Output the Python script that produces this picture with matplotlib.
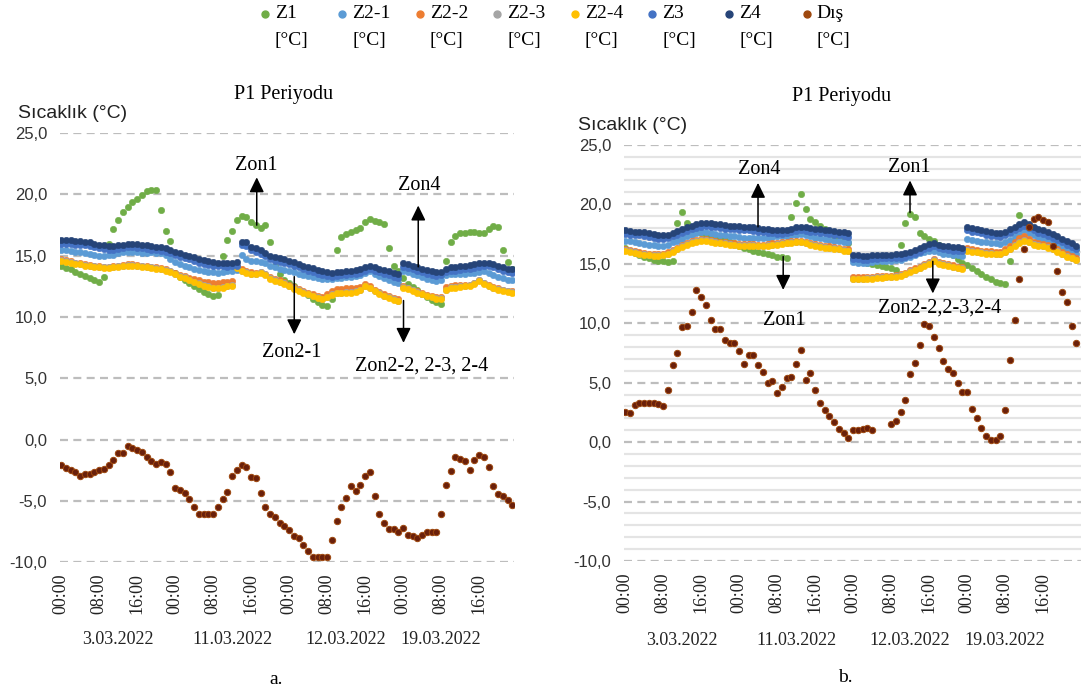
import numpy as np
import matplotlib.pyplot as plt
from matplotlib.lines import Line2D

# hourly index over the four measurement days
hours = np.arange(96)
tick_hours = np.arange(0, 96, 8)
tick_labels = ['00:00', '08:00', '16:00'] * 4
dates = ['3.03.2022', '11.03.2022', '12.03.2022', '19.03.2022']
date_pos = [12, 36, 60, 80]
names = ['Z1', 'Z2-1', 'Z2-2', 'Z2-3', 'Z2-4', 'Z3', 'Z4', 'Dış']

# ---- panel a (°C) ----
a_z1 = [14.2, 14.0, 13.9, 13.7, 13.5, 13.35, 13.2, 13.05,
        12.85, 13.3, 16.0, 17.2, 17.9, 18.6, 19.0, 19.35,
        19.6, 19.95, 20.25, 20.4, 20.35, 18.7, 17.0, 16.2,
        13.6, 13.3, 13.0, 12.75, 12.5, 12.3, 12.05, 11.9,
        11.75, 11.8, 15.0, 16.3, 17.0, 17.95, 18.25, 18.2,
        17.75, 17.55, 17.25, 17.5, 16.15, 14.2, 13.5, 13.0,
        12.75, 12.5, 12.25, 12.05, 11.8, 11.5, 11.2, 11.0,
        10.9, 11.5, 15.5, 16.55, 16.75, 16.95, 17.1, 17.3,
        17.75, 18.0, 17.85, 17.75, 17.6, 15.6, 14.2, 13.75,
        13.2, 12.7, 12.45, 12.2, 11.9, 11.65, 11.4, 11.2,
        11.1, 14.6, 16.1, 16.6, 16.85, 16.9, 16.95, 16.95,
        16.9, 16.9, 17.2, 17.45, 17.35, 15.5, 14.5, 13.9]
a_z21 = [15.5, 15.45, 15.4, 15.35, 15.3, 15.25, 15.15, 15.1,
         15.0, 15.0, 15.05, 15.1, 15.2, 15.3, 15.35, 15.3,
         15.3, 15.25, 15.25, 15.3, 15.25, 15.2, 15.1, 14.7,
         14.5, 14.35, 14.2, 14.1, 13.95, 13.85, 13.75, 13.7,
         13.65, 13.6, 13.65, 13.75, 13.8, 13.85, 15.1, 14.75,
         14.6, 14.55, 14.5, 14.4, 14.2, 14.05, 13.95, 13.85,
         13.75, 13.65, 13.55, 13.45, 13.35, 13.25, 13.2, 13.1,
         13.1, 13.1, 13.15, 13.2, 13.25, 13.3, 13.35, 13.45,
         13.6, 13.75, 13.55, 13.35, 13.2, 13.05, 12.9, 12.8,
         13.8, 13.7, 13.55, 13.4, 13.25, 13.1, 13.0, 12.95,
         13.0, 13.45, 13.5, 13.5, 13.55, 13.55, 13.6, 13.6,
         13.7, 13.75, 13.6, 13.45, 13.3, 13.15, 13.05, 13.0]
a_z22 = [14.75, 14.65, 14.55, 14.45, 14.4, 14.3, 14.25, 14.2,
         14.15, 14.1, 14.1, 14.15, 14.2, 14.25, 14.3, 14.3,
         14.25, 14.2, 14.15, 14.1, 14.05, 14.0, 13.9, 13.8,
         13.6, 13.4, 13.35, 13.2, 13.1, 13.0, 12.9, 12.85,
         12.8, 12.8, 12.85, 12.9, 12.95, 14.15, 13.9, 13.75,
         13.65, 13.6, 13.7, 13.55, 13.25, 13.1, 13.0, 12.85,
         12.65, 12.45, 12.3, 12.15, 12.0, 11.85, 11.7, 11.6,
         11.9, 12.15, 12.3, 12.3, 12.35, 12.35, 12.4, 12.45,
         12.7, 12.5, 12.25, 12.05, 11.85, 11.7, 11.55, 11.45,
         12.5, 12.4, 12.25, 12.1, 11.95, 11.8, 11.7, 11.6,
         11.65, 12.45, 12.55, 12.6, 12.6, 12.65, 12.65, 12.8,
         13.0, 12.8, 12.6, 12.45, 12.35, 12.25, 12.15, 12.1]
a_z23 = [14.65, 14.55, 14.5, 14.4, 14.35, 14.25, 14.2, 14.15,
         14.1, 14.05, 14.05, 14.1, 14.15, 14.2, 14.25, 14.25,
         14.2, 14.15, 14.1, 14.05, 14.0, 13.95, 13.85, 13.75,
         13.55, 13.35, 13.25, 13.05, 12.9, 12.75, 12.6, 12.5,
         12.4, 12.4, 12.45, 12.55, 12.6, 14.05, 13.8, 13.65,
         13.55, 13.55, 13.65, 13.5, 13.15, 13.0, 12.9, 12.75,
         12.55, 12.35, 12.2, 12.05, 11.9, 11.75, 11.6, 11.5,
         11.65, 11.85, 12.0, 12.0, 12.05, 12.05, 12.1, 12.25,
         12.55, 12.4, 12.15, 11.95, 11.75, 11.6, 11.45, 11.35,
         12.45, 12.35, 12.2, 12.05, 11.9, 11.75, 11.65, 11.55,
         11.55, 12.25, 12.45, 12.45, 12.5, 12.55, 12.6, 12.75,
         13.0, 12.75, 12.55, 12.4, 12.3, 12.2, 12.1, 12.05]
a_z24 = [14.6, 14.5, 14.45, 14.35, 14.3, 14.2, 14.15, 14.1,
         14.05, 14.0, 14.0, 14.05, 14.1, 14.15, 14.2, 14.2,
         14.15, 14.1, 14.05, 14.0, 13.95, 13.9, 13.8, 13.7,
         13.5, 13.3, 13.2, 13.0, 12.85, 12.7, 12.55, 12.45,
         12.35, 12.35, 12.4, 12.5, 12.55, 14.0, 13.75, 13.6,
         13.5, 13.5, 13.6, 13.45, 13.1, 12.95, 12.85, 12.7,
         12.5, 12.3, 12.15, 12.0, 11.85, 11.7, 11.55, 11.45,
         11.6, 11.8, 11.95, 11.95, 12.0, 12.0, 12.05, 12.2,
         12.5, 12.35, 12.1, 11.9, 11.7, 11.55, 11.4, 11.3,
         12.4, 12.3, 12.15, 12.0, 11.85, 11.7, 11.6, 11.5,
         11.5, 12.2, 12.4, 12.4, 12.45, 12.5, 12.55, 12.7,
         12.95, 12.7, 12.5, 12.35, 12.25, 12.15, 12.05, 12.0]
a_z3 = [16.0, 16.0, 15.95, 15.9, 15.9, 15.85, 15.8, 15.7,
        15.6, 15.55, 15.5, 15.5, 15.55, 15.6, 15.7, 15.7,
        15.65, 15.6, 15.55, 15.5, 15.45, 15.4, 15.3, 15.2,
        15.05, 14.9, 14.8, 14.7, 14.6, 14.45, 14.35, 14.25,
        14.2, 14.15, 14.15, 14.1, 14.15, 14.2, 15.85, 15.8,
        15.45, 15.3, 15.15, 14.95, 14.75, 14.6, 14.5, 14.4,
        14.3, 14.2, 14.05, 13.9, 13.8, 13.7, 13.55, 13.45,
        13.35, 13.3, 13.35, 13.4, 13.45, 13.5, 13.55, 13.6,
        13.75, 13.9, 13.75, 13.65, 13.55, 13.45, 13.3, 13.2,
        14.1, 14.0, 13.9, 13.75, 13.65, 13.55, 13.45, 13.35,
        13.4, 13.65, 13.75, 13.8, 13.85, 13.9, 13.95, 14.0,
        14.1, 14.15, 14.15, 14.05, 13.9, 13.75, 13.65, 13.6]
a_z4 = [16.3, 16.3, 16.25, 16.2, 16.2, 16.15, 16.1, 16.0,
        15.9, 15.85, 15.8, 15.8, 15.85, 15.9, 16.0, 16.0,
        15.95, 15.9, 15.85, 15.8, 15.75, 15.7, 15.6, 15.5,
        15.35, 15.2, 15.1, 15.0, 14.9, 14.75, 14.65, 14.55,
        14.5, 14.45, 14.45, 14.4, 14.45, 14.5, 16.15, 16.1,
        15.75, 15.6, 15.45, 15.2, 15.0, 14.9, 14.8, 14.7,
        14.6, 14.5, 14.35, 14.2, 14.1, 14.0, 13.85, 13.75,
        13.65, 13.6, 13.65, 13.7, 13.75, 13.8, 13.85, 13.9,
        14.05, 14.2, 14.05, 13.95, 13.85, 13.75, 13.6, 13.5,
        14.4, 14.3, 14.2, 14.05, 13.95, 13.85, 13.75, 13.65,
        13.7, 13.95, 14.05, 14.1, 14.15, 14.2, 14.25, 14.3,
        14.4, 14.45, 14.45, 14.35, 14.2, 14.05, 13.95, 13.9]
a_dis = [-2.1, -2.3, -2.45, -2.6, -3.0, -2.8, -2.8, -2.65,
         -2.5, -2.35, -2.1, -1.65, -1.05, -1.05, -0.55, -0.7,
         -0.8, -1.0, -1.4, -1.7, -2.0, -1.85, -2.0, -2.6,
         -3.9, -4.1, -4.35, -4.8, -5.45, -6.1, -6.1, -6.1,
         -6.1, -5.45, -4.8, -4.25, -2.95, -2.5, -2.05, -2.2,
         -3.05, -3.15, -4.35, -5.45, -6.05, -6.3, -6.8, -7.0,
         -7.4, -7.85, -8.0, -8.55, -9.1, -9.55, -9.55, -9.55,
         -9.55, -8.2, -6.65, -5.5, -4.75, -3.8, -4.2, -3.7,
         -2.95, -2.65, -4.6, -6.05, -6.8, -7.3, -7.3, -7.5,
         -7.2, -7.75, -7.85, -8.0, -7.8, -7.5, -7.5, -7.5,
         -6.1, -3.7, -2.55, -1.4, -1.55, -1.75, -2.45, -1.65,
         -1.25, -1.4, -2.25, -3.8, -4.4, -4.6, -4.9, -5.3]

# ---- panel b (°C) ----
b_z1 = [16.3, 16.1, 15.9, 15.75, 15.6, 15.45, 15.35, 15.25,
        15.2, 15.15, 15.2, 18.4, 19.35, 18.4, 17.9, 17.7,
        17.55, 17.4, 17.3, 17.2, 17.1, 17.0, 16.85, 16.7,
        16.45, 16.35, 16.25, 16.1, 16.0, 15.9, 15.8, 15.7,
        15.6, 15.55, 15.5, 18.9, 20.1, 20.9, 19.6, 18.8,
        18.5, 18.2, 17.9, 17.6, 17.3, 17.1, 16.9, 16.7,
        15.4, 15.3, 15.2, 15.1, 15.0, 14.9, 14.8, 14.7,
        14.6, 14.5, 16.6, 18.4, 19.2, 18.9, 17.6, 17.3,
        17.1, 16.9, 16.6, 16.3, 16.0, 15.7, 15.4, 15.1,
        14.85, 14.6, 14.35, 14.1, 13.9, 13.7, 13.5, 13.35,
        13.3, 15.25, 17.0, 19.1, 18.4, 18.2, 18.0, 17.8,
        17.6, 17.4, 17.2, 17.0, 16.8, 16.6, 16.4, 16.2]
b_z21 = [16.95, 16.9, 16.8, 16.7, 16.65, 16.6, 16.55, 16.5,
         16.5, 16.6, 16.8, 16.95, 17.1, 17.3, 17.45, 17.55,
         17.65, 17.7, 17.6, 17.5, 17.45, 17.4, 17.35, 17.3,
         17.25, 17.2, 17.2, 17.2, 17.15, 17.15, 17.2, 17.25,
         17.3, 17.3, 17.35, 17.4, 17.45, 17.5, 17.4, 17.3,
         17.2, 17.15, 17.1, 17.0, 16.95, 16.9, 16.85, 16.8,
         15.15, 15.1, 15.1, 15.1, 15.15, 15.2, 15.2, 15.25,
         15.25, 15.3, 15.35, 15.45, 15.6, 15.75, 15.9, 16.0,
         16.1, 16.1, 15.95, 15.85, 15.8, 15.75, 15.7, 15.65,
         17.1, 17.0, 16.9, 16.85, 16.8, 16.75, 16.7, 16.65,
         16.8, 17.0, 17.3, 17.55, 17.8, 17.6, 17.4, 17.2,
         17.1, 17.0, 16.8, 16.6, 16.4, 16.2, 16.0, 15.85]
b_z22 = [16.25, 16.15, 16.05, 15.95, 15.9, 15.85, 15.8, 15.8,
         15.85, 15.95, 16.15, 16.35, 16.55, 16.75, 16.9, 17.0,
         17.1, 17.1, 17.0, 16.9, 16.85, 16.8, 16.75, 16.7,
         16.65, 16.65, 16.65, 16.65, 16.6, 16.6, 16.65, 16.7,
         16.75, 16.8, 16.85, 16.9, 16.95, 16.95, 16.85, 16.75,
         16.65, 16.55, 16.5, 16.45, 16.4, 16.35, 16.25, 16.2,
         13.85, 13.85, 13.85, 13.9, 13.9, 13.95, 13.95, 14.0,
         14.0, 14.05, 14.15, 14.25, 14.45, 14.6, 14.75, 14.95,
         15.15, 15.4, 15.15, 15.05, 14.95, 14.85, 14.75, 14.7,
         16.3, 16.2, 16.15, 16.1, 16.05, 16.05, 16.0, 16.0,
         16.2, 16.5, 16.85, 17.15, 17.35, 17.1, 16.85, 16.7,
         16.65, 16.55, 16.4, 16.2, 16.0, 15.8, 15.65, 15.5]
b_z23 = [16.15, 16.05, 15.95, 15.85, 15.8, 15.75, 15.7, 15.7,
         15.75, 15.85, 16.05, 16.25, 16.45, 16.65, 16.8, 16.9,
         17.0, 17.0, 16.9, 16.8, 16.75, 16.7, 16.65, 16.6,
         16.55, 16.55, 16.55, 16.55, 16.5, 16.5, 16.55, 16.6,
         16.65, 16.7, 16.75, 16.8, 16.85, 16.85, 16.75, 16.65,
         16.55, 16.45, 16.4, 16.35, 16.3, 16.25, 16.15, 16.1,
         13.75, 13.75, 13.75, 13.8, 13.8, 13.85, 13.85, 13.9,
         13.9, 13.95, 14.05, 14.15, 14.35, 14.5, 14.65, 14.85,
         15.05, 15.3, 15.05, 14.95, 14.85, 14.75, 14.65, 14.6,
         16.15, 16.05, 16.0, 15.95, 15.9, 15.9, 15.85, 15.85,
         16.0, 16.25, 16.55, 16.8, 17.0, 16.85, 16.65, 16.55,
         16.5, 16.4, 16.25, 16.05, 15.85, 15.65, 15.5, 15.35]
b_z24 = [16.1, 16.0, 15.9, 15.8, 15.75, 15.7, 15.65, 15.65,
         15.7, 15.8, 16.0, 16.2, 16.4, 16.6, 16.75, 16.85,
         16.95, 16.95, 16.85, 16.75, 16.7, 16.65, 16.6, 16.55,
         16.5, 16.5, 16.5, 16.5, 16.45, 16.45, 16.5, 16.55,
         16.6, 16.65, 16.7, 16.75, 16.8, 16.8, 16.7, 16.6,
         16.5, 16.4, 16.35, 16.3, 16.25, 16.2, 16.1, 16.05,
         13.7, 13.7, 13.7, 13.75, 13.75, 13.8, 13.8, 13.85,
         13.85, 13.9, 14.0, 14.1, 14.3, 14.45, 14.6, 14.8,
         15.0, 15.25, 15.0, 14.9, 14.8, 14.7, 14.6, 14.55,
         16.1, 16.0, 15.95, 15.9, 15.85, 15.85, 15.8, 15.8,
         15.95, 16.2, 16.5, 16.75, 16.95, 16.8, 16.6, 16.5,
         16.45, 16.35, 16.2, 16.0, 15.8, 15.6, 15.45, 15.3]
b_z3 = [17.5, 17.45, 17.4, 17.4, 17.35, 17.25, 17.2, 17.1,
        17.1, 17.15, 17.3, 17.45, 17.6, 17.75, 17.9, 18.0,
        18.1, 18.15, 18.1, 18.05, 18.0, 17.95, 17.9, 17.9,
        17.85, 17.8, 17.8, 17.75, 17.7, 17.65, 17.6, 17.55,
        17.5, 17.5, 17.55, 17.65, 17.75, 17.8, 17.75, 17.7,
        17.65, 17.6, 17.55, 17.5, 17.45, 17.4, 17.35, 17.25,
        15.4, 15.4, 15.35, 15.35, 15.4, 15.4, 15.45, 15.45,
        15.45, 15.5, 15.5, 15.6, 15.7, 15.85, 16.0, 16.2,
        16.35, 16.45, 16.3, 16.2, 16.15, 16.1, 16.1, 16.05,
        17.8, 17.7, 17.65, 17.55, 17.45, 17.35, 17.3, 17.25,
        17.4, 17.6, 17.8, 18.0, 18.2, 18.0, 17.8, 17.6,
        17.5, 17.35, 17.2, 17.0, 16.8, 16.6, 16.4, 16.2]
b_z4 = [17.8, 17.75, 17.7, 17.7, 17.65, 17.55, 17.5, 17.4,
        17.4, 17.45, 17.6, 17.75, 17.9, 18.05, 18.2, 18.3,
        18.4, 18.45, 18.4, 18.35, 18.3, 18.25, 18.2, 18.2,
        18.15, 18.1, 18.1, 18.05, 18.0, 17.95, 17.9, 17.85,
        17.8, 17.8, 17.85, 17.95, 18.05, 18.1, 18.05, 18.0,
        17.95, 17.9, 17.85, 17.8, 17.75, 17.7, 17.65, 17.55,
        15.7, 15.7, 15.65, 15.65, 15.7, 15.7, 15.75, 15.75,
        15.75, 15.8, 15.8, 15.9, 16.0, 16.15, 16.3, 16.5,
        16.65, 16.75, 16.6, 16.5, 16.45, 16.4, 16.4, 16.35,
        18.1, 18.0, 17.95, 17.85, 17.75, 17.65, 17.6, 17.55,
        17.7, 17.9, 18.1, 18.3, 18.5, 18.3, 18.1, 17.9,
        17.8, 17.65, 17.5, 17.3, 17.1, 16.9, 16.7, 16.5]
b_dis = [2.55, 2.45, 3.15, 3.25, 3.25, 3.25, 3.25, 3.2,
         3.0, 4.4, 6.5, 7.5, 9.65, 9.75, 10.95, 12.8,
         12.2, 11.5, 10.3, 9.5, 9.5, 8.6, 8.35, 8.3,
         7.7, 6.55, 7.3, 7.3, 6.5, 5.9, 4.95, 5.1,
         4.15, 4.65, 5.35, 5.5, 6.6, 7.75, 5.2, 5.85,
         4.4, 3.25, 2.7, 2.2, 1.7, 1.1, 0.75, 0.35,
         1.0, 1.0, 1.1, 1.2, 1.0, np.nan, np.nan, np.nan,
         1.5, 1.75, 2.55, 3.55, 5.7, 6.65, 8.15, 9.9,
         9.75, 8.8, 7.95, 6.8, 6.15, 5.8, 4.95, 4.2,
         4.25, 2.8, 2.05, 1.15, 0.55, 0.15, 0.15, 0.55,
         2.7, 6.9, 10.3, 13.7, 16.2, 18.1, 18.75, 18.9,
         18.7, 18.5, 16.5, 14.35, 12.6, 11.8, 9.8, 8.3]

colors = ['#70AD47', '#5B9BD5', '#ED7D31', '#A5A5A5',
          '#FFC000', '#4472C4', '#264478', '#9E480E']
dis_face = '#6a200b'

W, H = 1081, 693
fig = plt.figure(figsize=(W / 100, H / 100), dpi=100)
serif = 'Liberation Serif'
sans = 'Liberation Sans'


def px_box(x0, x1, ytop, ybot):
    return [x0 / W, 1 - ybot / H, (x1 - x0) / W, (ybot - ytop) / H]


def draw_panel(ax, data, xmax, minor):
    for vals, c, name in zip(data, colors, names):
        if name == 'Dış':
            ax.plot(hours, vals, 'o', ms=4.6, mfc=dis_face, mec='#9E480E',
                    mew=0.7, ls='none', zorder=4)
        else:
            ax.plot(hours, vals, 'o', ms=4.6, mfc=c, mec=c, mew=0.4,
                    ls='none', zorder=3)
    ax.set_xlim(-0.3, xmax)
    ax.set_ylim(-10, 25)
    ax.set_yticks(np.arange(-10, 26, 5))
    ax.set_yticklabels([f'{v:.1f}'.replace('.', ',') for v in np.arange(-10, 26, 5)],
                       fontfamily=sans, fontsize=12, color='#333333')
    if minor:
        ax.set_yticks(np.arange(-10, 26, 1), minor=True)
        ax.yaxis.grid(True, which='minor', color='#e4e4e4', lw=1.6, zorder=0)
    ax.yaxis.grid(True, which='major', color='#bdbdbd', lw=1.6,
                  ls=(0, (3.6, 2.4)), zorder=1)
    ax.set_xticks(tick_hours)
    ax.set_xticklabels(tick_labels, rotation=90, fontfamily=serif,
                       fontsize=13, color='#222222')
    ax.tick_params(axis='both', which='both', length=0)
    ax.tick_params(axis='y', pad=9)
    ax.tick_params(axis='x', pad=8)
    ax.set_axisbelow(True)
    for s in ax.spines.values():
        s.set_visible(False)


def arrow(ax, x, y0, y1):
    ax.annotate('', xy=(x, y1), xytext=(x, y0),
                arrowprops=dict(arrowstyle='-|>,head_length=0.45,head_width=0.22',
                                mutation_scale=20, color='black', lw=1.1,
                                shrinkA=0, shrinkB=0), zorder=6)


ax_a = fig.add_axes(px_box(59.6, 514.2, 133.2, 562.3))
draw_panel(ax_a, [a_z1, a_z21, a_z22, a_z23, a_z24, a_z3, a_z4, a_dis], 95.4, False)
ax_b = fig.add_axes(px_box(623.6, 1081, 144.8, 561))
draw_panel(ax_b, [b_z1, b_z21, b_z22, b_z23, b_z24, b_z3, b_z4, b_dis], 96, True)

# date labels under the hour ticks
for ax, yy in [(ax_a, -0.181), (ax_b, -0.19)]:
    for d, p in zip(dates, date_pos):
        ax.text(p, yy, d, transform=ax.get_xaxis_transform(), ha='center',
                va='center', fontfamily=serif, fontsize=13, color='#222222')

# annotations, panel a
ann = dict(fontfamily=serif, fontsize=14.5, ha='center', va='center', zorder=6)
arrow(ax_a, 41.2, 17.5, 21.4)
ax_a.text(41.0, 22.4, 'Zon1', **ann)
arrow(ax_a, 75.2, 14.1, 19.1)
ax_a.text(75.4, 20.7, 'Zon4', **ann)
arrow(ax_a, 49.1, 13.3, 8.6)
ax_a.text(48.6, 7.1, 'Zon2-1', **ann)
arrow(ax_a, 72.1, 11.35, 7.9)
ax_a.text(75.9, 6.0, 'Zon2-2, 2-3, 2-4', **ann)

# annotations, panel b
arrow(ax_b, 28.0, 18.1, 21.8)
ax_b.text(28.2, 22.9, 'Zon4', **ann)
arrow(ax_b, 33.3, 15.6, 12.8)
ax_b.text(33.5, 10.2, 'Zon1', **ann)
arrow(ax_b, 60.0, 19.3, 22.0)
ax_b.text(59.8, 23.1, 'Zon1', **ann)
arrow(ax_b, 64.8, 15.2, 12.5)
ax_b.text(66.3, 11.3, 'Zon2-2,2-3,2-4', **ann)

# titles and axis captions
fig.text(284 / W, 1 - 94 / H, 'P1 Periyodu', fontfamily=serif, fontsize=14.5,
         ha='center', va='center')
fig.text(842 / W, 1 - 97 / H, 'P1 Periyodu', fontfamily=serif, fontsize=14.5,
         ha='center', va='center')
fig.text(73 / W, 1 - 114 / H, 'Sıcaklık (°C)', fontfamily=sans, fontsize=14,
         ha='center', va='center', color='#222222')
fig.text(633 / W, 1 - 126 / H, 'Sıcaklık (°C)', fontfamily=sans, fontsize=14,
         ha='center', va='center', color='#222222')
fig.text(276 / W, 1 - 680 / H, 'a.', fontfamily=serif, fontsize=14,
         ha='center', va='center')
fig.text(845 / W, 1 - 678 / H, 'b.', fontfamily=serif, fontsize=14,
         ha='center', va='center')

# legend on top, two lines per entry
for i, (name, c) in enumerate(zip(names, colors)):
    x = 265 + i * 77.4
    fig.add_artist(Line2D([x / W], [1 - 14 / H], marker='o', ms=5, mfc=c, mec=c,
                          ls='none', transform=fig.transFigure))
    fig.text((x + 10) / W, 1 - 14 / H, name, fontfamily=serif, fontsize=14,
             ha='left', va='center')
    fig.text((x + 10) / W, 1 - 41 / H, '[°C]', fontfamily=serif, fontsize=14,
             ha='left', va='center')

fig.savefig('out.png', dpi=100)
